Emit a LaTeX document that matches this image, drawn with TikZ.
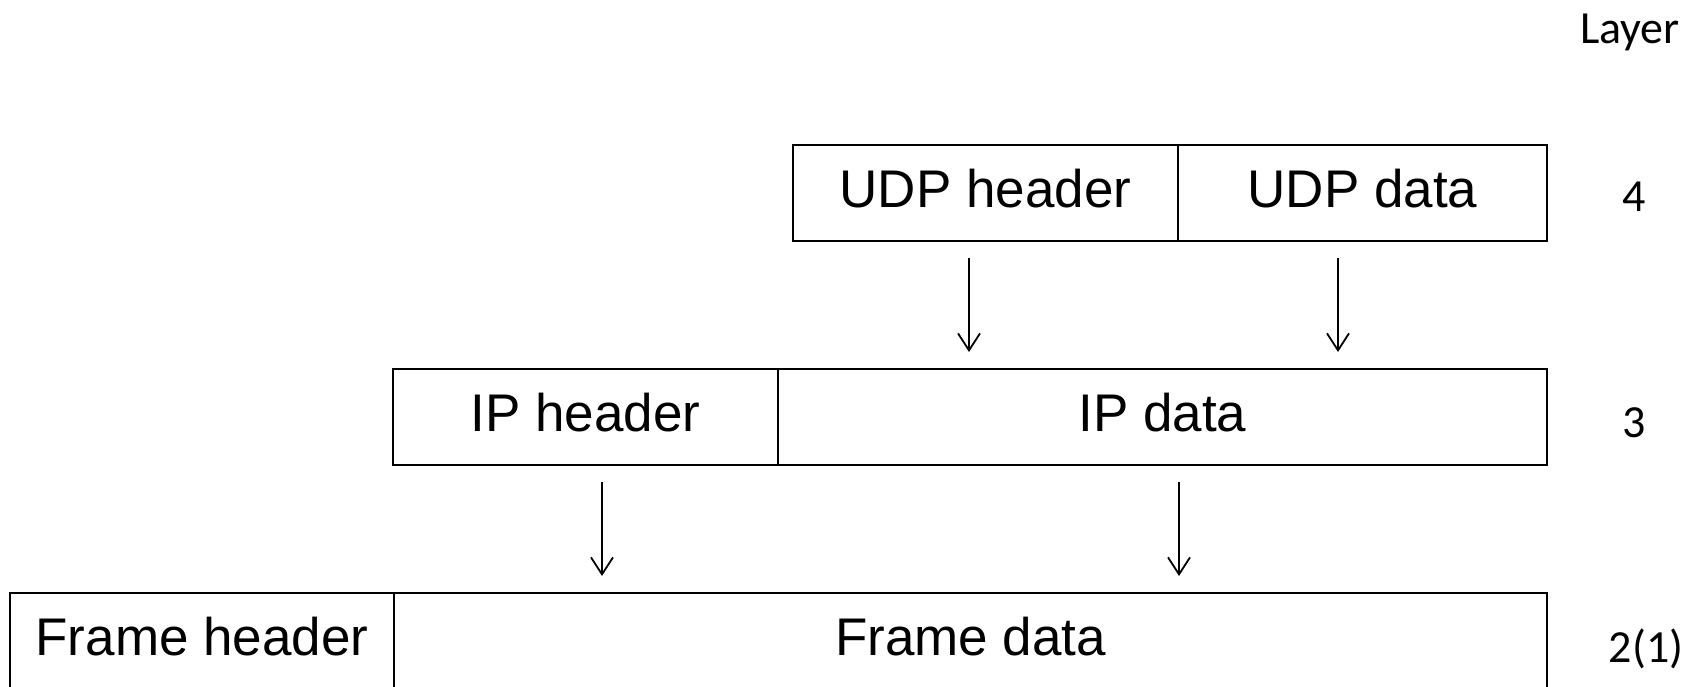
\documentclass[tikz,border=0pt]{standalone}
\usepackage{fontspec}
\setmainfont{Liberation Sans}
\newfontfamily\layerfont{Carlito}
\usetikzlibrary{arrows.meta}

\tikzset{
  cell/.style={draw=black, line width=1.8pt, rectangle, anchor=north west,
    minimum height=96pt, inner sep=0pt, outer sep=0pt,
    text height=38pt, text depth=10pt,
    font=\fontsize{53pt}{60pt}\selectfont},
  layerlabel/.style={anchor=base, inner sep=0pt,
    font=\layerfont\fontsize{46pt}{52pt}\selectfont},
  down/.style={line width=1.8pt, -{Straight Barb[length=17pt,width=22pt,line width=1.8pt]}}
}

\begin{document}
\begin{tikzpicture}[x=1pt,y=-1pt]
  \useasboundingbox (0,0) rectangle (1697,686);

  % layer 4: UDP segment
  \node[cell, minimum width=385pt] (udph) at (793,145) {UDP header};
  \node[cell, minimum width=369pt] (udpd) at (udph.north east) {UDP data};

  % layer 3: IP packet
  \node[cell, minimum width=385pt] (iph) at (393,369) {IP header};
  \node[cell, minimum width=769pt] (ipd) at (iph.north east) {IP data};

  % layer 2(1): frame
  \node[cell, minimum width=384pt] (frh) at (10,593) {Frame header};
  \node[cell, minimum width=1153pt] (frd) at (frh.north east) {Frame data};

  % layer numbers
  \node[layerlabel] (lhead) at (1630,43) {Layer};
  \node[layerlabel] (l4) at (1634,211) {4};
  \node[layerlabel] (l3) at (1634,437) {3};
  \node[layerlabel] (l2) at (1646,662) {2(1)};

  % encapsulation arrows
  \coordinate (a1s) at (969,258);  \coordinate (a1e) at (969,352);
  \coordinate (a2s) at (1338,258); \coordinate (a2e) at (1338,352);
  \coordinate (a3s) at (602,482);  \coordinate (a3e) at (602,576);
  \coordinate (a4s) at (1179,482); \coordinate (a4e) at (1179,576);
  \draw[down] (a1s) -- (a1e);
  \draw[down] (a2s) -- (a2e);
  \draw[down] (a3s) -- (a3e);
  \draw[down] (a4s) -- (a4e);
\end{tikzpicture}
\end{document}
